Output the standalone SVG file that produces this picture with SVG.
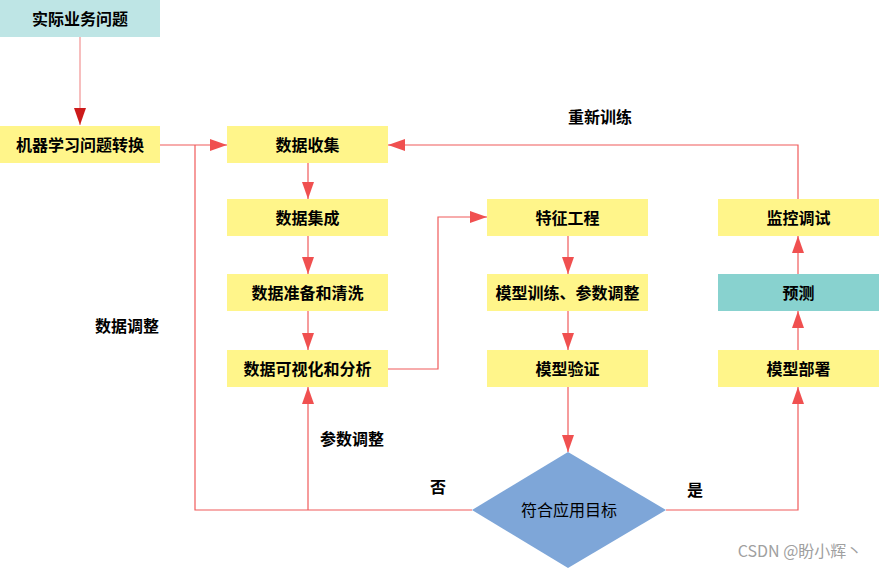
<svg xmlns="http://www.w3.org/2000/svg" width="879" height="569" viewBox="0 0 879 569">
<style>
.box{fill:#FFF58A}
.teal{fill:#BEE5E5}
.pred{fill:#88D2CF}
.t{font-family:"Noto Sans CJK SC","Liberation Sans",sans-serif;font-size:16px;font-weight:bold;fill:#000;text-anchor:middle;dominant-baseline:central}
.n{font-weight:normal}
.c{fill:none;stroke:#F05A5A;stroke-width:1.2}
</style>
<defs>
<marker id="ah" markerWidth="17" markerHeight="12" refX="17" refY="6" orient="auto" markerUnits="userSpaceOnUse">
<path d="M0,0 L17,6 L0,12 Z" fill="#F05050"/>
</marker>
<marker id="ahd" markerWidth="17" markerHeight="12" refX="17" refY="6" orient="auto" markerUnits="userSpaceOnUse">
<path d="M0,0 L17,6 L0,12 Z" fill="#CC1A1A"/>
</marker>
</defs>
<rect width="879" height="569" fill="#fff"/>
<g id="connectors">
<path d="M80,37 V125" fill="none" stroke="#F4A8A8" stroke-width="1.5" marker-end="url(#ahd)"/>
<path class="c" d="M160,145 H227" marker-end="url(#ah)"/>
<path class="c" d="M308,163 V199" marker-end="url(#ah)"/>
<path class="c" d="M308,236 V274" marker-end="url(#ah)"/>
<path class="c" d="M308,311 V350" marker-end="url(#ah)"/>
<path class="c" d="M388,369 H438 V217 H487" marker-end="url(#ah)"/>
<path class="c" d="M568,236 V274" marker-end="url(#ah)"/>
<path class="c" d="M568,311 V350" marker-end="url(#ah)"/>
<path class="c" d="M568,387 V452" marker-end="url(#ah)"/>
<path class="c" d="M472,510 H195 V145"/>
<path class="c" d="M308,510 V387" marker-end="url(#ah)"/>
<path class="c" d="M666,510 H798 V387" marker-end="url(#ah)"/>
<path class="c" d="M798,350 V311" marker-end="url(#ah)"/>
<path class="c" d="M798,274 V236" marker-end="url(#ah)"/>
<path class="c" d="M798,199 V145 H388" marker-end="url(#ah)"/>
</g>
<g id="n1"><rect class="teal" x="0" y="0" width="160" height="37"/><text class="t" x="80" y="18">实际业务问题</text></g>
<g id="n2"><rect class="box" x="0" y="126" width="160" height="37"/><text class="t" x="80" y="144">机器学习问题转换</text></g>
<g id="n3"><rect class="box" x="227" y="126" width="161" height="37"/><text class="t" x="307.5" y="144">数据收集</text></g>
<g id="n4"><rect class="box" x="227" y="199" width="161" height="37"/><text class="t" x="307.5" y="217">数据集成</text></g>
<g id="n5"><rect class="box" x="227" y="274" width="161" height="37"/><text class="t" x="307.5" y="292">数据准备和清洗</text></g>
<g id="n6"><rect class="box" x="227" y="350" width="161" height="37"/><text class="t" x="307.5" y="368">数据可视化和分析</text></g>
<g id="n7"><rect class="box" x="487" y="199" width="161" height="37"/><text class="t" x="567.5" y="217">特征工程</text></g>
<g id="n8"><rect class="box" x="487" y="274" width="161" height="37"/><text class="t" x="567.5" y="292">模型训练、参数调整</text></g>
<g id="n9"><rect class="box" x="487" y="350" width="161" height="37"/><text class="t" x="567.5" y="368">模型验证</text></g>
<g id="n10"><rect class="box" x="718" y="199" width="161" height="37"/><text class="t" x="798.5" y="217">监控调试</text></g>
<g id="n11"><rect class="pred" x="718" y="274" width="161" height="37"/><text class="t" x="798.5" y="292">预测</text></g>
<g id="n12"><rect class="box" x="718" y="350" width="161" height="37"/><text class="t" x="798.5" y="368">模型部署</text></g>
<g id="n13"><path d="M568,452 L666,510 L568,568 L472,510 Z" fill="#7EA6D8"/><text class="t n" x="569" y="509">符合应用目标</text></g>
<g id="labels">
<text class="t" x="600" y="116">重新训练</text>
<text class="t" x="127" y="325">数据调整</text>
<text class="t" x="352" y="438">参数调整</text>
<text class="t" x="438" y="486">否</text>
<text class="t" x="695" y="489">是</text>
<text x="800" y="550" font-family="Noto Sans CJK SC, Liberation Sans, sans-serif" font-size="16" fill="#A0A0A0" text-anchor="middle" dominant-baseline="central">CSDN @盼小辉丶</text>
</g>
</svg>
